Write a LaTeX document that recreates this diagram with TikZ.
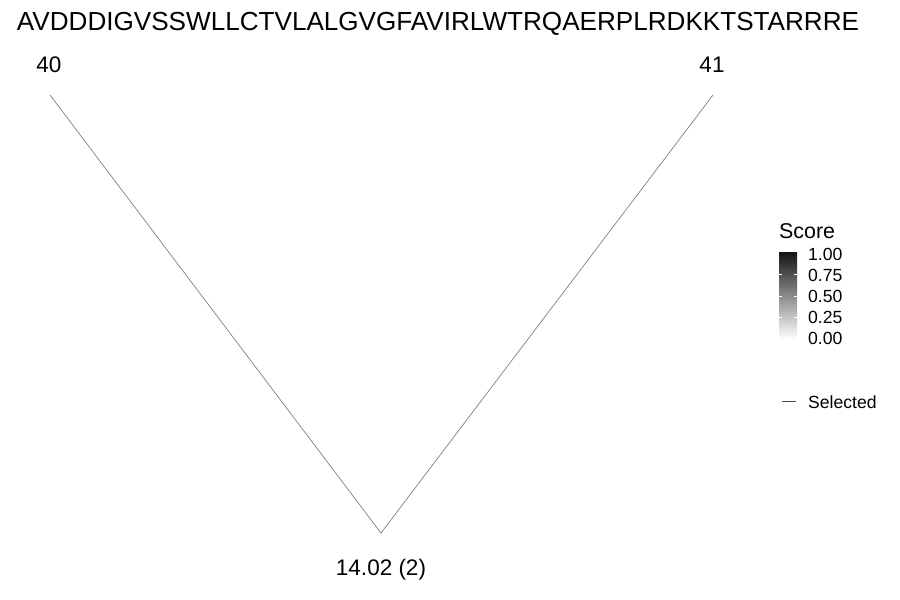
\documentclass[tikz,border=0pt]{standalone}
\usepackage{fontspec}
\setmainfont{Liberation Sans}
\begin{document}
\begin{tikzpicture}[x=1pt,y=-1pt,
  lbl/.style={inner sep=0pt,anchor=base},
  edge/.style={draw=black!50,line width=0.7pt},
  tick/.style={inner sep=0pt,anchor=base west,font=\fontsize{17.6}{20}\selectfont}]
\useasboundingbox (0,0) rectangle (900,600);
\node[lbl,font=\fontsize{26.1}{30}\selectfont] (seq) at (438,30) {AVDDDIGVSSWLLCTVLALGVGFAVIRLWTRQAERPLRDKKTSTARRRE};
\coordinate (p40) at (50,95);
\coordinate (p41) at (713,95);
\coordinate (root) at (381,533);
\node[lbl,font=\fontsize{22.5}{25}\selectfont] (l40) at (49,72) {40};
\node[lbl,font=\fontsize{22.5}{25}\selectfont] (l41) at (712,72) {41};
\node[lbl,font=\fontsize{22.5}{25}\selectfont] (lroot) at (381,575) {14.02 (2)};
\draw[edge] (p40) -- (root) -- (p41);
% legend
\node[inner sep=0pt,anchor=base west,font=\fontsize{21.4}{24}\selectfont] (score) at (779,238) {Score};
\shade[top color=black!92,bottom color=white] (779,252) rectangle (797,339);
\foreach \y in {274,296,317}{
  \draw[white,line width=0.5pt] (779,\y) -- (782,\y);
  \draw[white,line width=0.5pt] (794,\y) -- (797,\y);
}
\node[tick] (t100) at (808,260) {1.00};
\node[tick] (t075) at (808,281) {0.75};
\node[tick] (t050) at (808,302) {0.50};
\node[tick] (t025) at (808,323) {0.25};
\node[tick] (t000) at (808,344) {0.00};
\coordinate (sa) at (782,401);
\coordinate (sb) at (796,401);
\draw[black!70,line width=0.7pt] (sa) -- (sb);
\node[tick] (sel) at (808,408) {Selected};
\end{tikzpicture}
\end{document}
